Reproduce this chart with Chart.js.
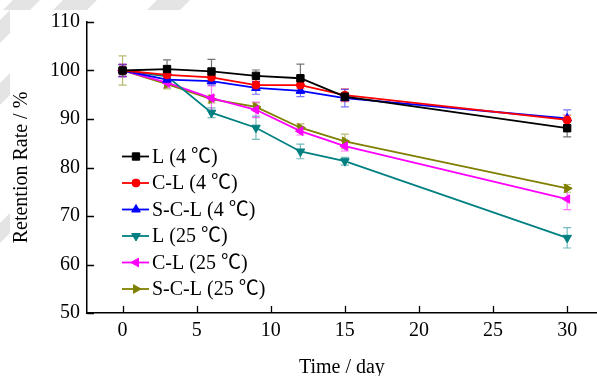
<!DOCTYPE html>
<html>
<head>
<meta charset="utf-8">
<script src="https://cdn.jsdelivr.net/npm/chart.js@4/dist/chart.umd.min.js"></script>
<style>
	html, body { margin: 0; padding: 0; background: #ffffff; overflow: hidden; }
	#wrap { width: 603px; height: 376px; position: relative; }
</style>
</head>
<body>
<div id="wrap"><canvas id="chart"></canvas></div>
<script>
// days of storage
const days = [0, 3, 6, 9, 12, 15, 30];
const xTicks = [0, 5, 10, 15, 20, 25, 30];

// retention rate (%) per sample
const L4 = [100, 100.3, 99.8, 98.9, 98.4, 94.6, 88.1];
const CL4 = [100, 99.1, 98.6, 97.0, 97.0, 94.9, 89.8];
const SCL4 = [100, 98.1, 97.8, 96.4, 95.8, 94.3, 90.1];
const L25 = [100, 98.8, 91.3, 88.2, 83.3, 81.3, 65.5];
const CL25 = [100, 97.5, 94.3, 91.9, 87.5, 84.4, 73.5];
const SCL25 = [100, 97.2, 94.1, 92.5, 88.2, 85.4, 75.7];

// standard deviations
const L4err = [1.2, 1.9, 2.5, 1.2, 2.9, 0.8, 1.8];
const CL4err = [1.2, 0.8, 1.0, 0.8, 0.8, 1.3, 1.0];
const SCL4err = [1.2, 0.8, 0.8, 1.3, 1.2, 1.8, 1.8];
const L25err = [1.3, 1.0, 1.0, 2.4, 1.5, 0.8, 2.1];
const CL25err = [1.3, 1.0, 2.5, 1.6, 0.8, 1.0, 2.2];
const SCL25err = [3.0, 1.0, 0.8, 0.8, 0.8, 1.5, 0.8];

const labels = ["L (4 \u2103)", "C-L (4 \u2103)", "S-C-L (4 \u2103)", "L (25 \u2103)", "C-L (25 \u2103)", "S-C-L (25 \u2103)"];

const FONT = "'Liberation Serif', 'Times New Roman', 'Noto Sans CJK SC', serif";

function makeSet(label, values, errs, color, style, rot, radius)
{
	return {
		label: label,
		data: days.map((d, i) => ({ x: d, y: values[i] })),
		errs: errs,
		borderColor: color,
		backgroundColor: color,
		pointBackgroundColor: color,
		pointBorderColor: color,
		pointStyle: style,
		pointRotation: rot,
		pointRadius: radius,
		pointBorderWidth: 1,
		borderWidth: 1.8,
		tension: 0
	};
}

// light watermark patches in the margins
const watermark = {
	id: "watermark",
	beforeDraw(chart)
	{
		const ctx = chart.ctx;
		ctx.save();
		ctx.fillStyle = "#e4e4e4";
		for (let p of [[13, 40], [63, 97], [157, 190]])
		{
			ctx.beginPath();
			ctx.moveTo(p[0], 0); ctx.lineTo(p[1], 0);
			ctx.lineTo(p[1] - 10, 10); ctx.lineTo(p[0] - 10, 10);
			ctx.closePath();
			ctx.fill();
		}
		for (let p of [[20, 43], [83, 105], [223, 243]])
		{
			ctx.beginPath();
			ctx.moveTo(0, p[0]); ctx.lineTo(10, p[0] - 10);
			ctx.lineTo(10, p[1] - 10); ctx.lineTo(0, p[1]);
			ctx.closePath();
			ctx.fill();
		}
		ctx.restore();
	}
};

const errorBars = {
	id: "errorBars",
	beforeDatasetsDraw(chart)
	{
		const ctx = chart.ctx;
		const xs = chart.scales.x, ys = chart.scales.y;
		ctx.save();
		ctx.lineWidth = 1.2;
		ctx.globalAlpha = 0.55;
		chart.data.datasets.forEach(ds =>
		{
			ctx.strokeStyle = ds.borderColor;
			ds.data.forEach((p, i) =>
			{
				const x = xs.getPixelForValue(p.x);
				const top = ys.getPixelForValue(p.y + ds.errs[i]);
				const bot = ys.getPixelForValue(p.y - ds.errs[i]);
				ctx.beginPath();
				ctx.moveTo(x, top); ctx.lineTo(x, bot);
				ctx.moveTo(x - 4, top); ctx.lineTo(x + 4, top);
				ctx.moveTo(x - 4, bot); ctx.lineTo(x + 4, bot);
				ctx.stroke();
			});
		});
		ctx.restore();
	}
};

// inward tick marks and the legend inside the plot
const decorations = {
	id: "decorations",
	afterDraw(chart)
	{
		const ctx = chart.ctx;
		const area = chart.chartArea;
		const xs = chart.scales.x, ys = chart.scales.y;
		ctx.save();
		ctx.strokeStyle = "#000";
		ctx.lineWidth = 1.3;
		ctx.beginPath();
		ys.ticks.forEach(t =>
		{
			const y = Math.round(ys.getPixelForValue(t.value)) + 0.5;
			ctx.moveTo(area.left, y); ctx.lineTo(area.left + 7, y);
		});
		xs.ticks.forEach(t =>
		{
			const x = Math.round(xs.getPixelForValue(t.value)) + 0.5;
			ctx.moveTo(x, area.bottom); ctx.lineTo(x, area.bottom - 7);
		});
		ctx.stroke();

		const lx = area.left + 49;
		let ly = area.top + 134.5;
		ctx.font = "20px " + FONT;
		ctx.textBaseline = "middle";
		ctx.textAlign = "left";
		chart.data.datasets.forEach(ds =>
		{
			ctx.strokeStyle = ds.borderColor;
			ctx.fillStyle = ds.borderColor;
			ctx.lineWidth = 1.8;
			ctx.beginPath();
			ctx.moveTo(lx - 14, ly); ctx.lineTo(lx + 13, ly);
			ctx.stroke();
			ctx.lineWidth = 1;
			Chart.helpers.drawPoint(ctx, { pointStyle: ds.pointStyle, rotation: ds.pointRotation, radius: ds.pointRadius, borderWidth: 1 }, lx, ly);
			ctx.fillStyle = "#000";
			ctx.fillText(ds.label, lx + 16, ly + 1);
			ly += 26.5;
		});
		ctx.restore();
	}
};

new Chart(document.getElementById("chart"),
{
	type: "line",
	data:
	{
		datasets:
		[
			makeSet(labels[0], L4, L4err, "#000000", "rect", 0, 5.2),
			makeSet(labels[1], CL4, CL4err, "#ff0000", "circle", 0, 4),
			makeSet(labels[2], SCL4, SCL4err, "#0000ff", "triangle", 0, 5),
			makeSet(labels[3], L25, L25err, "#008080", "triangle", 180, 5),
			makeSet(labels[4], CL25, CL25err, "#ff00ff", "triangle", -90, 5),
			makeSet(labels[5], SCL25, SCL25err, "#808000", "triangle", 90, 5)
		]
	},
	options:
	{
		responsive: true,
		maintainAspectRatio: false,
		animation: false,
		layout: { padding: { top: 22, right: 0, left: 0, bottom: 0 } },
		plugins:
		{
			legend: { display: false },
			tooltip: { enabled: false }
		},
		scales:
		{
			x:
			{
				type: "linear",
				min: -2.4,
				max: 32,
				afterBuildTicks: s => { s.ticks = xTicks.map(v => ({ value: v })); },
				afterFit: s => { s.height = 63; },
				grid: { display: true, drawOnChartArea: false, drawTicks: false },
				border: { display: true, color: "#000", width: 1.5 },
				ticks: { color: "#000", padding: 6, font: { family: FONT, size: 20 } },
				title:
				{
					display: true,
					text: "Time / day",
					color: "#000",
					padding: 0,
					font: { family: FONT, size: 20, lineHeight: 0.85 }
				}
			},
			y:
			{
				min: 50,
				max: 110,
				ticks: { stepSize: 10, color: "#000", padding: 7, font: { family: FONT, size: 20 } },
				afterFit: s => { s.width = 87; },
				grid: { display: true, drawOnChartArea: false, drawTicks: false },
				border: { display: true, color: "#000", width: 1.5 },
				title:
				{
					display: true,
					text: "Retention Rate / %",
					color: "#000",
					padding: { top: 10, bottom: 0 },
					font: { family: FONT, size: 20 }
				}
			}
		}
	},
	plugins: [watermark, errorBars, decorations]
});
</script>
</body>
</html>
